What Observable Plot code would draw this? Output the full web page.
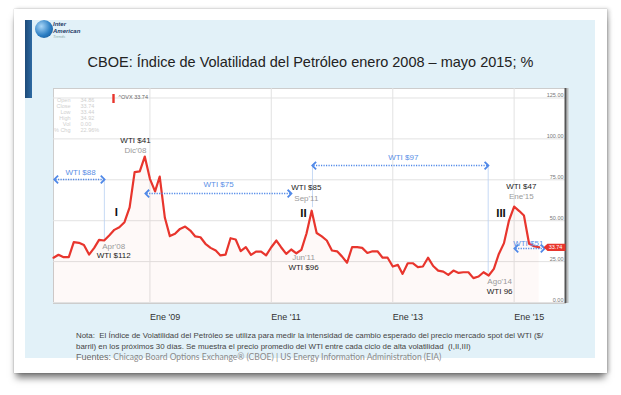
<!DOCTYPE html>
<html><head><meta charset="utf-8">
<script src="https://cdn.jsdelivr.net/npm/d3@7"></script>
<script src="https://cdn.jsdelivr.net/npm/@observablehq/plot@0.6"></script>
<style>
html,body{margin:0;padding:0;background:#fff;}
body{width:621px;height:395px;overflow:hidden;position:relative;font-family:"Liberation Sans",Arial,sans-serif;}
.card{position:absolute;left:14px;top:9px;width:593px;height:364px;background:#fff;box-shadow:0 7px 7px -2px rgba(0,0,0,.5),2px 0 4px rgba(0,0,0,.22),0 0 1px rgba(0,0,0,.3);}
.panel{position:absolute;left:25px;top:20px;width:570px;height:338px;background:#e2f1f8;}
.bar{position:absolute;left:25px;top:20px;width:7px;height:78px;background:linear-gradient(90deg,#1d4a78,#2d6aa3);}
.globe{position:absolute;left:35px;top:20px;width:18px;height:18px;border-radius:50%;background:radial-gradient(circle at 35% 35%,#a9d6f7,#2c7fc4 55%,#0e4a86);}
.logo{position:absolute;left:53px;top:21px;font:italic bold 6px/6.5px "Liberation Sans",Arial,sans-serif;color:#1c3a66;}
.logo small{display:block;font:italic 4px/5px "Liberation Sans",Arial,sans-serif;color:#8aa;}
.title{position:absolute;left:0;top:53px;width:621px;text-align:center;font:14.5px/18px "Liberation Sans",Arial,sans-serif;color:#222;}
#chart{position:absolute;left:40px;top:85px;}
.note{position:absolute;left:76px;top:329.5px;width:520px;font:7.9px/11px "Liberation Sans",Arial,sans-serif;color:#444;}
.src{position:absolute;left:76px;top:351px;white-space:nowrap;font:8.5px/12px Lato,"Open Sans",sans-serif;color:#8a8a8a;}
.src b{font:9px/12px "Liberation Sans",Arial,sans-serif;color:#6a6a6a;font-weight:normal;}
</style></head>
<body>
<div class="card"></div>
<div class="panel"></div>
<div class="bar"></div>
<div class="globe"></div>
<div class="logo">Inter<br>American<small>Trends</small></div>
<div class="title">CBOE: Índice de Volatilidad del Petróleo enero 2008 – mayo 2015; %</div>
<div id="chart"></div>
<div class="note">Nota:&nbsp; El Índice de Volatilidad del Petróleo se utiliza para medir la intensidad de cambio esperado del precio mercado spot del WTI ($/<br>barril) en los próximos 30 días. Se muestra el precio promedio del WTI entre cada ciclo de alta volatilidad&nbsp; (I,II,III)</div>
<div class="src"><b>Fuentes:</b> Chicago Board Options Exchange® (CBOE) | US Energy Information Administration (EIA)</div>
<script>
// ---- data (monthly OVX readings) ----
const months = [
 "2007-06","2007-07","2007-08","2007-09","2007-10","2007-11","2007-12",
 "2008-01","2008-02","2008-03","2008-04","2008-05","2008-06","2008-07","2008-08","2008-09","2008-10","2008-11","2008-12",
 "2009-01","2009-02","2009-03","2009-04","2009-05","2009-06","2009-07","2009-08","2009-09","2009-10","2009-11","2009-12",
 "2010-01","2010-02","2010-03","2010-04","2010-05","2010-06","2010-07","2010-08","2010-09","2010-10","2010-11","2010-12",
 "2011-01","2011-02","2011-03","2011-04","2011-05","2011-06","2011-07","2011-08","2011-09","2011-10","2011-11","2011-12",
 "2012-01","2012-02","2012-03","2012-04","2012-05","2012-06","2012-07","2012-08","2012-09","2012-10","2012-11","2012-12",
 "2013-01","2013-02","2013-03","2013-04","2013-05","2013-06","2013-07","2013-08","2013-09","2013-10","2013-11","2013-12",
 "2014-01","2014-02","2014-03","2014-04","2014-05","2014-06","2014-07","2014-08","2014-09","2014-10","2014-11","2014-12",
 "2015-01","2015-02","2015-03","2015-04","2015-05","2015-06"
];
const ovx = [
 27.4, 29.2, 27.7, 27.7, 36.9, 36.5, 35.2,
 29.3, 33.4, 38.3, 37.9, 41.0, 44.4, 46.0, 49.1, 58.2, 79.7, 80.1, 89.2,
 75.6, 67.9, 77.0, 51.8, 40.6, 42.0, 45.0, 46.4, 44.0, 40.4, 39.9, 35.9,
 33.4, 31.8, 28.8, 29.3, 39.3, 38.5, 31.4, 33.8, 29.1, 31.1, 31.1, 28.8,
 33.8, 37.9, 33.8, 29.7, 32.4, 30.1, 32.2, 42.2, 56.1, 42.5, 40.4, 37.9,
 31.8, 31.3, 28.2, 24.3, 33.8, 33.8, 33.4, 30.3, 31.3, 31.3, 27.4, 27.4,
 22.0, 23.0, 17.5, 24.0, 24.0, 21.6, 22.0, 27.4, 22.3, 19.5, 18.9, 16.9,
 19.5, 18.1, 18.5, 18.5, 14.9, 15.9, 18.5, 16.5, 20.6, 29.7, 36.3, 50.1,
 58.6, 55.9, 53.2, 35.9, 34.4, 33.74
];
const xTicks = ["2009-01-01","2011-01-01","2013-01-01","2015-01-01"];
const xTickLabels = ["Ene '09","Ene '11","Ene '13","Ene '15"];
const yTicks = [0, 25, 50, 75, 100, 125];
const xDomain = ["2007-06-01","2015-11-06"];
const yDomain = [-0.6, 130.8];

// average WTI price between volatility cycles (blue)
const wtiRanges = [
 {from:"2007-06-13", to:"2008-03-27", v:75.2, label:"WTI $88", at:"2007-11-11", lv:79.5},
 {from:"2008-12-12", to:"2011-04-25", v:66.6, label:"WTI $75", at:"2010-02-18", lv:72.1},
 {from:"2011-09-12", to:"2014-07-23", v:83.7, label:"WTI $97", at:"2013-03-05", lv:88.6},
 {from:"2015-01-10", to:"2015-06-26", v:33.0, label:"WTI $51", at:"2015-03-27", lv:36.1}
];
// peak / trough callouts
const priceNotes = [
 {at:"2008-10-06", v:99.0, label:"WTI $41"},
 {at:"2011-07-31", v:70.1, label:"WTI $85"},
 {at:"2015-02-13", v:70.9, label:"WTI $47"},
 {at:"2008-05-28", v:28.7, label:"WTI $112"},
 {at:"2011-07-14", v:21.6, label:"WTI $96"},
 {at:"2014-10-06", v:6.7,  label:"WTI 96"}
];
const dateNotes = [
 {at:"2008-10-06", v:92.9, label:"Dic'08"},
 {at:"2011-07-31", v:63.8, label:"Sep'11"},
 {at:"2015-02-13", v:64.8, label:"Ene'15"},
 {at:"2008-05-28", v:34.2, label:"Apr'08"},
 {at:"2011-07-14", v:27.7, label:"Jun'11"},
 {at:"2014-10-06", v:12.8, label:"Ago'14"}
];
const cycles = [
 {at:"2008-06-13", v:55.2, label:"I"},
 {at:"2011-07-14", v:54.6, label:"II"},
 {at:"2014-10-14", v:54.6, label:"III"}
];
const connectors = [
 {at:"2008-04-02", v1:75.2, v2:38},
 {at:"2011-09-06", v1:83.7, v2:58},
 {at:"2014-07-29", v1:83.7, v2:18}
];
const ohlcNames = ["Open","Close","Low","High","Vol","% Chg"];
const ohlcValues = ["34.86","33.74","33.44","34.92","0.00","22.96%"];
const legendLabel = "^OVX 33.74";

// ---- build ----
const D = s => new Date(s);
const data = months.map((m, i) => ({date: D(m + "-01"), v: ovx[i]}));
const last = data[data.length - 1];
const xEnd = D(xDomain[1]);
const xTickDates = xTicks.map(D);
const tickLabel = new Map(xTickDates.map((d, i) => [+d, xTickLabels[i]]));

const chevR = {draw(c){ c.moveTo(-2.6,-3.8); c.lineTo(1.2,0); c.lineTo(-2.6,3.8); }};
const chevL = {draw(c){ c.moveTo(2.6,-3.8); c.lineTo(-1.2,0); c.lineTo(2.6,3.8); }};
const tagSym = {draw(c){ c.moveTo(-11,0); c.lineTo(-7,-3.6); c.lineTo(11,-3.6); c.lineTo(11,3.6); c.lineTo(-7,3.6); c.closePath(); }};
const barSym = {draw(c){ c.rect(-1.2,-4.5,2.4,9); }};

const RED = "#e8352d", BLUE = "#4f88e8";
const font = "'Liberation Sans', Arial, sans-serif";

const chart = Plot.plot({
  width: 545, height: 245,
  marginLeft: 13, marginRight: 20, marginTop: 3, marginBottom: 27,
  x: {type: "utc", domain: xDomain.map(D)},
  y: {domain: yDomain},
  style: {background: "transparent", fontFamily: font, overflow: "visible"},
  marks: [
    Plot.frame({fill: "#fff", stroke: "#cdcdcd"}),
    Plot.gridY(yTicks, {stroke: "#e2e2e2", strokeOpacity: 1}),
    Plot.gridX(xTickDates, {stroke: "#e2e2e2", strokeOpacity: 1}),
    Plot.areaY(data, {x: "date", y: "v", fill: RED, fillOpacity: 0.03}),
    Plot.ruleX(connectors, {x: d => D(d.at), y1: "v1", y2: "v2", stroke: "#b9d0f3", strokeWidth: 0.8}),
    Plot.lineY(data, {x: "date", y: "v", stroke: RED, strokeWidth: 2.2}),
    Plot.link(wtiRanges, {x1: d => D(d.from), x2: d => D(d.to), y1: "v", y2: "v", stroke: BLUE, strokeWidth: 1.6, strokeDasharray: "1.2,1.3"}),
    Plot.dot(wtiRanges, {x: d => D(d.from), y: "v", symbol: chevL, r: 4, stroke: BLUE, strokeWidth: 1.8, fill: "none"}),
    Plot.dot(wtiRanges, {x: d => D(d.to), y: "v", symbol: chevR, r: 4, stroke: BLUE, strokeWidth: 1.8, fill: "none"}),
    Plot.text(wtiRanges, {x: d => D(d.at), y: "lv", text: "label", fill: "#5b8fe6", fontSize: 8}),
    Plot.text(priceNotes, {x: d => D(d.at), y: "v", text: "label", fill: "#222", fontSize: 8}),
    Plot.text(dateNotes, {x: d => D(d.at), y: "v", text: "label", fill: "#9a9a9a", fontSize: 8}),
    Plot.text(cycles, {x: d => D(d.at), y: "v", text: "label", fill: "#111", fontSize: 11.5, fontWeight: "bold"}),
    Plot.text([ohlcNames.join("\n")], {text: d => d, frameAnchor: "top-left", dx: 17, dy: 9, textAnchor: "end", lineHeight: 1.1, fontSize: 5.5, fill: "#cfcfcf"}),
    Plot.text([ohlcValues.join("\n")], {text: d => d, frameAnchor: "top-left", dx: 27, dy: 9, textAnchor: "start", lineHeight: 1.1, fontSize: 5.5, fill: "#cfcfcf"}),
    Plot.dot([legendLabel], {frameAnchor: "top-left", dx: 60, dy: 10, symbol: barSym, fill: RED, r: 3}),
    Plot.text([legendLabel], {text: d => d, frameAnchor: "top-left", dx: 65, dy: 7, textAnchor: "start", fontSize: 5.5, fill: "#666"}),
    Plot.ruleX([xEnd], {stroke: "#bdbdbd", strokeWidth: 2, dx: 2}),
    Plot.ruleX([xEnd], {stroke: "#555", strokeWidth: 2}),
    Plot.axisY(yTicks, {anchor: "right", tickSize: 0, tickPadding: 0, dx: -2, dy: -2.5, textAnchor: "end", tickFormat: d => d.toFixed(2), fontSize: 5.5, color: "#777", label: null}),
    Plot.dot([last], {x: () => xEnd, y: "v", symbol: tagSym, fill: RED, r: 3, dx: -11}),
    Plot.text([last], {x: () => xEnd, y: "v", text: d => d.v.toFixed(2), fill: "#fff", fontSize: 5.5, dx: -10}),
    Plot.axisX(xTickDates, {anchor: "bottom", tickSize: 0, tickPadding: 10, textAnchor: "start", tickFormat: d => tickLabel.get(+d), fontSize: 9, color: "#333", label: null})
  ]
});
document.getElementById("chart").append(chart);
</script>
</body></html>
